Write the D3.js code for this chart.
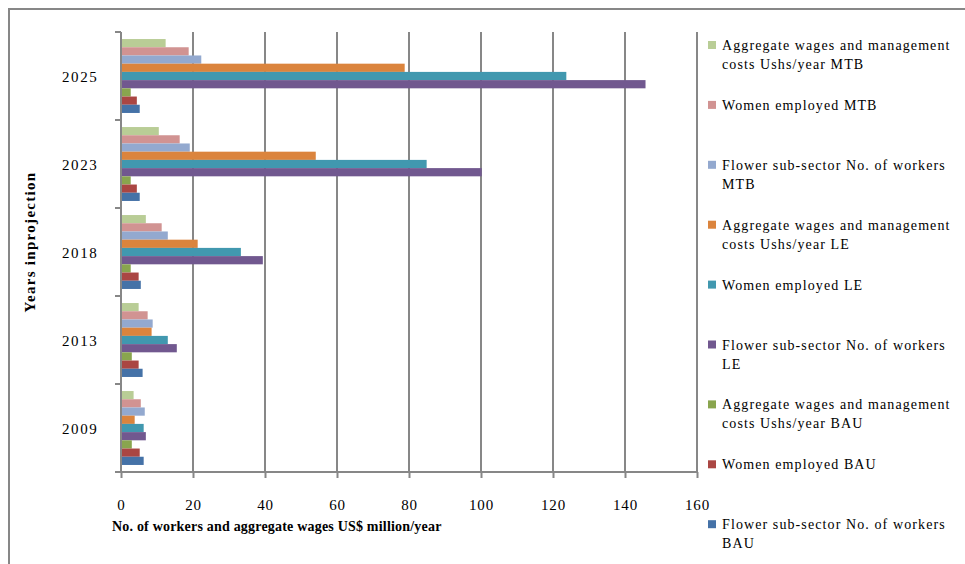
<!DOCTYPE html>
<html>
<head>
<meta charset="utf-8">
<script src="https://cdn.jsdelivr.net/npm/d3@7"></script>
<style>
  body { margin: 0; background: #fff; }
  svg { display: block; font-family: "Liberation Serif", "DejaVu Serif", serif; }
</style>
</head>
<body>
<svg id="chart" width="965" height="564"></svg>
<script>
// categories, top to bottom as drawn
const years = ["2025", "2023", "2018", "2013", "2009"];

// series, in the order they appear top to bottom inside each group (and in the legend)
const seriesNames = [
  "Aggregate wages and management costs Ushs/year MTB",
  "Women employed MTB",
  "Flower sub-sector No. of workers MTB",
  "Aggregate wages and management costs Ushs/year LE",
  "Women employed LE",
  "Flower sub-sector No. of workers LE",
  "Aggregate wages and management costs Ushs/year BAU",
  "Women employed BAU",
  "Flower sub-sector No. of workers BAU"
];
const legendLines = [
  ["Aggregate wages and management", "costs Ushs/year MTB"],
  ["Women employed MTB"],
  ["Flower sub-sector No. of workers", "MTB"],
  ["Aggregate wages and management", "costs Ushs/year LE"],
  ["Women employed LE"],
  ["Flower sub-sector No. of workers", "LE"],
  ["Aggregate wages and management", "costs Ushs/year BAU"],
  ["Women employed BAU"],
  ["Flower sub-sector No. of workers", "BAU"]
];
const seriesColors = ["#B9CD96", "#D19392", "#93A9CF", "#DB843D", "#4198AF", "#71588F", "#89A54E", "#AA4643", "#4572A7"];

// values per series, aligned with years (2025, 2023, 2018, 2013, 2009)
const aggMTB    = [12.4, 10.5, 6.9, 4.9, 3.5];
const womenMTB  = [18.8, 16.3, 11.3, 7.4, 5.5];
const flowerMTB = [22.3, 19.1, 13.0, 8.8, 6.6];
const aggLE     = [78.8, 54.1, 21.3, 8.5, 3.8];
const womenLE   = [123.7, 84.9, 33.3, 13.0, 6.3];
const flowerLE  = [145.7, 100.2, 39.4, 15.5, 6.9];
const aggBAU    = [2.7, 2.7, 2.7, 3.0, 3.0];
const womenBAU  = [4.4, 4.4, 4.9, 4.9, 5.2];
const flowerBAU = [5.2, 5.2, 5.5, 6.0, 6.3];
const seriesValues = [aggMTB, womenMTB, flowerMTB, aggLE, womenLE, flowerLE, aggBAU, womenBAU, flowerBAU];

const xTicks = [0, 20, 40, 60, 80, 100, 120, 140, 160];

const svg = d3.select("#chart");
const plot = {left: 121, right: 697, top: 32, bottom: 472};
const gridColor = "#878787";

// outer frame (right/bottom edges fall outside the picture)
svg.append("rect")
  .attr("x", 9).attr("y", 9)
  .attr("width", 980).attr("height", 580)
  .attr("fill", "none")
  .attr("stroke", gridColor)
  .attr("stroke-width", 2);

const x = d3.scaleLinear().domain([0, 160]).range([plot.left, plot.right]);
const y0 = d3.scaleBand().domain(years).range([plot.top, plot.bottom]).paddingInner(0.16).paddingOuter(0.08);
const y1 = d3.scaleBand().domain(d3.range(seriesNames.length)).range([0, y0.bandwidth()]);

// vertical gridlines
svg.append("g")
  .selectAll("line")
  .data(xTicks.slice(1))
  .join("line")
  .attr("x1", d => x(d)).attr("x2", d => x(d))
  .attr("y1", plot.top).attr("y2", plot.bottom)
  .attr("stroke", gridColor)
  .attr("stroke-width", 2);

// bars
const rows = [];
years.forEach((yr, yi) => {
  seriesValues.forEach((vals, si) => rows.push({year: yr, s: si, v: vals[yi]}));
});
svg.append("g")
  .selectAll("rect")
  .data(rows)
  .join("rect")
  .attr("x", x(0))
  .attr("y", d => y0(d.year) + y1(d.s))
  .attr("width", d => x(d.v) - x(0))
  .attr("height", y1.bandwidth())
  .attr("fill", d => seriesColors[d.s]);

// y axis line and ticks at group boundaries
svg.append("line")
  .attr("x1", plot.left).attr("x2", plot.left)
  .attr("y1", plot.top).attr("y2", plot.bottom)
  .attr("stroke", gridColor).attr("stroke-width", 2);
const step = (plot.bottom - plot.top) / years.length;
svg.append("g")
  .selectAll("line")
  .data(d3.range(years.length + 1))
  .join("line")
  .attr("x1", plot.left - 6).attr("x2", plot.left)
  .attr("y1", i => plot.top + i * step).attr("y2", i => plot.top + i * step)
  .attr("stroke", gridColor).attr("stroke-width", 2);

svg.append("g")
  .selectAll("text")
  .data(years)
  .join("text")
  .attr("x", 62)
  .attr("y", d => y0(d) + y0.bandwidth() / 2 + 6)
  .attr("font-size", 15)
  .attr("letter-spacing", 1.6)
  .text(d => d);

// x axis
const xAxis = svg.append("g")
  .attr("transform", `translate(0,${plot.bottom})`)
  .call(d3.axisBottom(x).tickValues(xTicks).tickSize(6).tickPadding(21).tickFormat(d3.format("d")));
xAxis.select(".domain").attr("stroke", gridColor).attr("stroke-width", 2)
  .attr("d", `M${plot.left - 6},0H${plot.right}`);
xAxis.selectAll(".tick line").attr("stroke", gridColor).attr("stroke-width", 2);
xAxis.selectAll(".tick text")
  .attr("font-family", "Liberation Serif, serif")
  .attr("font-size", 15)
  .attr("letter-spacing", 0.8)
  .attr("fill", "#000");

// axis titles
svg.append("text")
  .attr("x", 112).attr("y", 531)
  .attr("font-size", 14)
  .attr("letter-spacing", 0.2)
  .attr("font-weight", "bold")
  .text("No. of workers and aggregate wages US$ million/year");

svg.append("text")
  .attr("transform", "translate(35,242) rotate(-90)")
  .attr("text-anchor", "middle")
  .attr("font-size", 15)
  .attr("letter-spacing", 1.3)
  .attr("font-weight", "bold")
  .text("Years inprojection");

// legend
const legend = svg.append("g").attr("font-size", 14).attr("letter-spacing", 1.1);
const item = legend.selectAll("g")
  .data(legendLines)
  .join("g")
  .attr("transform", (d, i) => `translate(708,${45 + i * 59.9})`);
item.append("rect")
  .attr("x", 0).attr("y", -4)
  .attr("width", 8).attr("height", 8)
  .attr("fill", (d, i) => seriesColors[i]);
item.selectAll("text")
  .data(d => d)
  .join("text")
  .attr("x", 14)
  .attr("y", (d, j) => 5 + j * 19)
  .text(d => d);
</script>
</body>
</html>
